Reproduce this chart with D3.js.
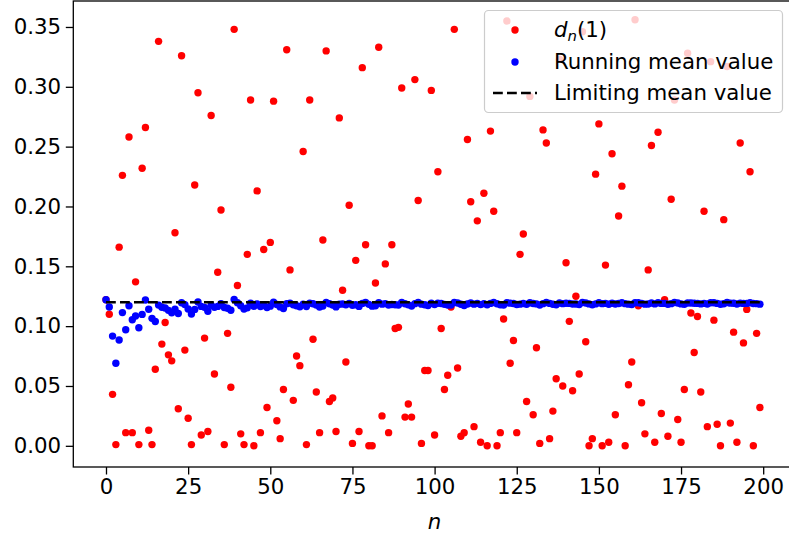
<!DOCTYPE html>
<html>
<head>
<meta charset="utf-8">
<script src="https://cdn.jsdelivr.net/npm/d3@7"></script>
<style>
  html, body { margin: 0; padding: 0; background: #fff; }
  svg { display: block; font-family: "DejaVu Sans", sans-serif; }
</style>
</head>
<body>
<svg id="chart" width="789" height="537"></svg>
<script>
// d_n(1) values, n = 0..199
const dnValues = [
  0.122,0.110,0.043,0.001,0.166,0.226,0.011,0.258,0.011,0.137,
  0.001,0.232,0.266,0.013,0.001,0.064,0.338,0.085,0.103,0.076,
  0.071,0.178,0.031,0.326,0.080,0.023,0.001,0.218,0.295,0.009,
  0.090,0.012,0.276,0.060,0.145,0.197,0.001,0.094,0.049,0.348,
  0.134,0.010,0.001,0.160,0.289,0.000,0.213,0.011,0.164,0.032,
  0.170,0.288,0.021,0.006,0.047,0.331,0.147,0.038,0.075,0.067,
  0.246,0.001,0.289,0.089,0.045,0.011,0.172,0.330,0.037,0.040,
  0.012,0.274,0.130,0.070,0.201,0.002,0.155,0.012,0.316,0.168,
  0.000,0.000,0.136,0.333,0.025,0.152,0.011,0.168,0.098,0.099,
  0.299,0.024,0.035,0.024,0.306,0.205,0.002,0.063,0.063,0.297,
  0.009,0.229,0.098,0.047,0.059,0.116,0.348,0.065,0.008,0.011,
  0.256,0.204,0.016,0.188,0.003,0.211,0.000,0.263,0.196,0.000,
  0.011,0.106,0.355,0.069,0.088,0.011,0.160,0.177,0.037,0.292,
  0.026,0.082,0.002,0.264,0.253,0.006,0.029,0.056,0.323,0.050,
  0.153,0.104,0.046,0.125,0.060,0.346,0.087,0.000,0.006,0.227,
  0.269,0.000,0.151,0.003,0.244,0.026,0.192,0.217,0.000,0.051,
  0.070,0.356,0.117,0.036,0.010,0.147,0.251,0.003,0.262,0.027,
  0.122,0.008,0.206,0.289,0.022,0.003,0.047,0.328,0.111,0.078,
  0.108,0.045,0.196,0.016,0.321,0.105,0.018,0.000,0.189,0.317,
  0.019,0.095,0.003,0.253,0.086,0.114,0.229,0.000,0.094,0.032
];

// Running mean value, n = 0..199 (as read from the blue points)
const runningMean = [
  0.1220,0.1160,0.0917,0.0690,0.0884,0.1113,0.0970,0.1171,0.1053,0.1085,
  0.0987,0.1098,0.1218,0.1141,0.1065,0.1039,0.1176,0.1158,0.1152,0.1132,
  0.1112,0.1142,0.1106,0.1196,0.1180,0.1143,0.1101,0.1140,0.1202,0.1165,
  0.1157,0.1124,0.1174,0.1157,0.1165,0.1188,0.1156,0.1150,0.1133,0.1223,
  0.1196,0.1170,0.1143,0.1153,0.1192,0.1166,0.1186,0.1164,0.1173,0.1156,
  0.1167,0.1200,0.1181,0.1161,0.1148,0.1187,0.1192,0.1178,0.1170,0.1162,
  0.1183,0.1164,0.1192,0.1187,0.1176,0.1160,0.1168,0.1199,0.1187,0.1176,
  0.1161,0.1183,0.1185,0.1178,0.1189,0.1174,0.1179,0.1165,0.1190,0.1197,
  0.1182,0.1167,0.1170,0.1195,0.1184,0.1188,0.1176,0.1181,0.1179,0.1177,
  0.1197,0.1187,0.1178,0.1168,0.1188,0.1197,0.1184,0.1179,0.1173,0.1191,
  0.1180,0.1191,0.1189,0.1182,0.1177,0.1176,0.1198,0.1193,0.1183,0.1173,
  0.1185,0.1193,0.1184,0.1190,0.1180,0.1188,0.1178,0.1190,0.1197,0.1187,
  0.1178,0.1177,0.1196,0.1192,0.1189,0.1181,0.1184,0.1189,0.1182,0.1196,
  0.1189,0.1186,0.1177,0.1188,0.1198,0.1190,0.1183,0.1178,0.1193,0.1188,
  0.1191,0.1190,0.1185,0.1185,0.1181,0.1197,0.1194,0.1186,0.1179,0.1186,
  0.1196,0.1188,0.1190,0.1183,0.1191,0.1185,0.1189,0.1196,0.1188,0.1184,
  0.1181,0.1196,0.1195,0.1190,0.1184,0.1185,0.1193,0.1186,0.1195,0.1190,
  0.1190,0.1183,0.1188,0.1198,0.1193,0.1186,0.1182,0.1194,0.1193,0.1191,
  0.1190,0.1186,0.1190,0.1185,0.1196,0.1195,0.1190,0.1183,0.1187,0.1197,
  0.1192,0.1191,0.1185,0.1192,0.1190,0.1190,0.1195,0.1189,0.1188,0.1184
];

const limitingMean = 0.12;
const limitingRange = [0, 199];
const xTicks = [0, 25, 50, 75, 100, 125, 150, 175, 200];
const yTicks = [0.00, 0.05, 0.10, 0.15, 0.20, 0.25, 0.30, 0.35];
const legendLabels = ["Running mean value", "Limiting mean value"];

const svg = d3.select("#chart");
const FS = 21.3;
const plot = { left: 73.3, right: 792.6, top: 1, bottom: 467 };

const x = d3.scaleLinear().domain([-9.95, 208.95]).range([plot.left, plot.right]);
const y = d3.scaleLinear().domain([-0.0177, 0.3717]).range([plot.bottom, plot.top]);

// points
const gPts = svg.append("g");
gPts.selectAll("circle.red").data(dnValues).join("circle")
  .attr("class", "red")
  .attr("cx", (d, i) => x(i)).attr("cy", d => y(d))
  .attr("r", 3.7).attr("fill", "#ff0000");

gPts.selectAll("circle.blue").data(runningMean).join("circle")
  .attr("class", "blue")
  .attr("cx", (d, i) => x(i)).attr("cy", d => y(d))
  .attr("r", 3.7).attr("fill", "#0000ff");

// limiting mean dashed line
svg.append("line")
  .attr("x1", x(limitingRange[0])).attr("x2", x(limitingRange[1]))
  .attr("y1", y(limitingMean)).attr("y2", y(limitingMean))
  .attr("stroke", "#000").attr("stroke-width", 2.6)
  .attr("stroke-dasharray", "9.8,4.2");

// axes
const xAxis = d3.axisBottom(x).tickValues(xTicks).tickSize(7.5).tickPadding(4.7).tickFormat(d3.format("d"));
const yAxis = d3.axisLeft(y).tickValues(yTicks).tickSize(7.5).tickPadding(4.7).tickFormat(d3.format(".2f"));

const gx = svg.append("g").attr("transform", `translate(0,${plot.bottom})`).call(xAxis);
const gy = svg.append("g").attr("transform", `translate(${plot.left},0)`).call(yAxis);
[gx, gy].forEach(g => {
  g.select(".domain").remove();
  g.selectAll(".tick line").attr("stroke", "#000").attr("stroke-width", 1.3);
  g.selectAll(".tick text").attr("fill", "#000").attr("font-size", FS)
    .attr("font-family", "DejaVu Sans");
});

// frame
svg.append("rect")
  .attr("x", plot.left).attr("y", plot.top)
  .attr("width", plot.right - plot.left).attr("height", plot.bottom - plot.top)
  .attr("fill", "none").attr("stroke", "#000").attr("stroke-width", 1.3);

// x label
svg.append("text")
  .attr("x", x(100)).attr("y", 529)
  .attr("text-anchor", "middle")
  .attr("font-size", FS).attr("font-style", "italic")
  .text("n");

// legend
const lg = svg.append("g");
lg.append("rect")
  .attr("x", 484.5).attr("y", 10.5).attr("width", 298).attr("height", 102)
  .attr("rx", 4).attr("ry", 4)
  .attr("fill", "#fff").attr("fill-opacity", 0.8)
  .attr("stroke", "#cccccc").attr("stroke-width", 1.2);

const rowsY = [30, 62, 93];
lg.append("circle").attr("cx", 515).attr("cy", rowsY[0]).attr("r", 3.7).attr("fill", "#ff0000");
lg.append("circle").attr("cx", 515).attr("cy", rowsY[1]).attr("r", 3.7).attr("fill", "#0000ff");
lg.append("line").attr("x1", 493).attr("x2", 537).attr("y1", rowsY[2]).attr("y2", rowsY[2])
  .attr("stroke", "#000").attr("stroke-width", 2.6).attr("stroke-dasharray", "9.8,4.2");

const t0 = lg.append("text").attr("x", 554).attr("y", rowsY[0]).attr("dy", "0.35em").attr("font-size", FS);
t0.append("tspan").attr("font-style", "italic").text("d");
t0.append("tspan").attr("font-style", "italic").attr("font-size", FS * 0.7).attr("dy", 4).text("n");
t0.append("tspan").attr("dy", -4).text("(1)");

lg.selectAll("text.lab").data(legendLabels).join("text")
  .attr("class", "lab")
  .attr("x", 554).attr("y", (d, i) => rowsY[i + 1]).attr("dy", "0.35em")
  .attr("font-size", FS).attr("fill", "#000")
  .text(d => d);
</script>
</body>
</html>
